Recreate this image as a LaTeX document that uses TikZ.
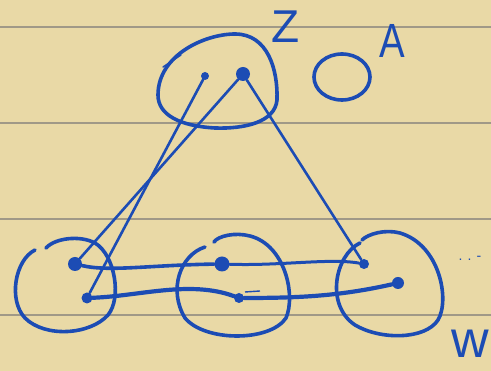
\documentclass[tikz,border=0pt]{standalone}
\usepackage{fontspec}
\setmainfont{Liberation Sans}
\definecolor{paper}{RGB}{233,217,166}
\definecolor{rule}{RGB}{160,153,135}
\definecolor{ink}{RGB}{28,76,180}
\begin{document}
\begin{tikzpicture}[x=1pt,y=-1pt,
  pen/.style={draw=ink,line width=3.6pt,line cap=round,line join=round},
  thin/.style={draw=ink,line width=2.6pt,line cap=round},
  dotb/.style={circle,fill=ink,inner sep=0pt,minimum size=#1},
  lab/.style={text=ink,inner sep=0pt}]
\fill[paper] (0,0) rectangle (491,371);
\useasboundingbox (0,0) rectangle (491,371);
\foreach \y in {27,123,219,315} \draw[rule,line width=1.5pt] (0,\y) -- (491,\y);
% top blob Z
\draw[pen] (158,95) .. controls (158,55) and (205,34) .. (235,34)
  .. controls (268,34) and (278,70) .. (277,100)
  .. controls (275,122) and (245,129) .. (215,128)
  .. controls (180,126) and (158,115) .. (158,95);
\draw[ink,line width=1.4pt,line cap=round] (163,67) -- (181,55);
% small circle near A
\draw[pen] (342,77) ellipse [x radius=28,y radius=23];
% bottom circles
\draw[pen] (35,250) .. controls (15,260) and (8,300) .. (25,318)
  .. controls (45,338) and (90,335) .. (108,315)
  .. controls (122,298) and (115,255) .. (95,243)
  .. controls (80,235) and (55,238) .. (46,248);
\draw[pen] (205,247) .. controls (180,255) and (168,290) .. (185,318)
  .. controls (205,342) and (270,342) .. (286,318)
  .. controls (296,295) and (285,245) .. (250,236)
  .. controls (235,232) and (218,236) .. (214,242);
\draw[pen] (360,243) .. controls (335,255) and (325,305) .. (355,325)
  .. controls (380,340) and (425,340) .. (438,320)
  .. controls (450,300) and (440,245) .. (400,233)
  .. controls (385,229) and (368,234) .. (362,240);
% dots
\node[dotb=8pt] (z1) at (205,76) {};
\node[dotb=14pt] (z2) at (243,74) {};
\node[dotb=14pt] (l1) at (75,264) {};
\node[dotb=11pt] (l2) at (87,298) {};
\node[dotb=15pt] (m1) at (222,264) {};
\node[dotb=10pt] (m2) at (239,298) {};
\node[dotb=10pt] (r1) at (364,264) {};
\node[dotb=12pt] (r2) at (398,283) {};
% long lines
\draw[thin] (z1) -- (l2);
\draw[thin] (z2) -- (l1);
\draw[thin] (z2) -- (r1);
% horizontal wavy
\draw[pen] (l1) .. controls (110,272) and (150,265) .. (m1);
\draw[thin,line width=3pt] (m1) .. controls (280,266) and (330,258) .. (r1);
\draw[pen,line width=4.2pt] (l2) .. controls (140,296) and (190,280) .. (m2);
\draw[pen,line width=4.2pt] (m2) .. controls (300,298) and (340,296) .. (r2);
\draw[ink,line width=1.4pt] (245,292) -- (260,291);
% labels
\node[lab,font=\fontsize{46}{46}\selectfont] (Z) at (286,27) {Z};
\node[lab,font=\fontsize{48}{48}\selectfont,xscale=0.8] (A) at (392,41) {A};
\node[lab,font=\fontsize{52}{52}\selectfont] (W) at (470,344) {w};
\node[text=ink,font=\fontsize{14}{14}\selectfont] (dots) at (470,258) {. . -};
\end{tikzpicture}
\end{document}
